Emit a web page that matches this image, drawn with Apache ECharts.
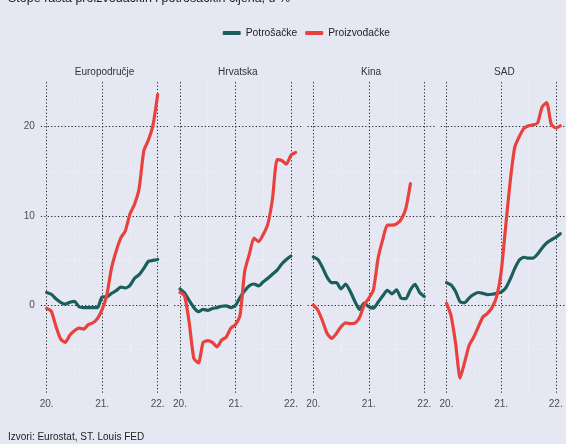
<!DOCTYPE html>
<html>
<head>
<meta charset="utf-8">
<title>Stope rasta cijena</title>
<script src="https://cdn.jsdelivr.net/npm/echarts@6/dist/echarts.min.js"></script>
<style>
  html, body { margin: 0; padding: 0; background: #E5E8F3; }
  #chart { width: 566px; height: 444px; }
</style>
</head>
<body>
<div id="chart"></div>
<script>
// x = mjeseci od siječnja 2020. (0 = 2020-01)
const panels = ["Europodručje", "Hrvatska", "Kina", "SAD"];
const seriesNames = ["Potrošačke", "Proizvođačke"];
const tickMonths = [0, 12, 24];
const tickLabels = ["20.", "21.", "22."];
const yTicks = [0, 10, 20];

const euPotrosacke = [1.4, 1.2, 0.7, 0.3, 0.1, 0.3, 0.4, -0.2, -0.3, -0.3, -0.3, -0.3, 0.9, 0.9, 1.3, 1.6, 2.0, 1.9, 2.2, 3.0, 3.4, 4.1, 4.9, 5.0, 5.1];
const euProizvodacke = [-0.4, -0.7, -2.4, -3.8, -4.2, -3.4, -2.9, -2.6, -2.7, -2.2, -2.0, -1.5, -0.5, 1.1, 4.1, 6.0, 7.5, 8.3, 10.2, 11.3, 13.1, 17.3, 18.5, 20.2, 23.6];
const hrPotrosacke = [1.8, 1.35, 0.5, -0.3, -0.75, -0.5, -0.6, -0.4, -0.3, -0.15, -0.1, -0.3, -0.05, 0.85, 1.6, 2.15, 2.35, 2.15, 2.6, 3.0, 3.45, 3.9, 4.6, 5.1, 5.5];
const hrProizvodacke = [1.4, 1.0, -2.0, -6.0, -6.5, -4.2, -4.0, -4.2, -4.7, -3.95, -3.6, -2.6, -2.2, -1.1, 3.8, 5.7, 7.5, 7.1, 7.9, 9.1, 11.9, 16.3, 16.2, 15.8, 16.8, 17.1];
const cnPotrosacke = [5.4, 5.1, 4.2, 3.1, 2.5, 2.5, 1.8, 2.35, 1.5, 0.4, -0.5, 0.2, -0.2, -0.35, 0.3, 1.0, 1.65, 1.25, 1.7, 0.75, 0.7, 1.7, 2.3, 1.4, 0.95];
const cnProizvodacke = [0.0, -0.6, -1.8, -3.2, -3.75, -3.2, -2.45, -2.0, -2.1, -2.05, -1.4, 0.0, 0.75, 1.7, 5.2, 7.3, 8.95, 8.95, 9.1, 9.6, 10.8, 13.6];
const usPotrosacke = [2.5, 2.25, 1.5, 0.35, 0.25, 0.8, 1.2, 1.4, 1.3, 1.15, 1.2, 1.3, 1.45, 1.9, 2.9, 4.1, 5.05, 5.35, 5.25, 5.25, 5.7, 6.4, 6.95, 7.3, 7.6, 8.0];
const usProizvodacke = [0.2, -1.2, -4.3, -8.2, -6.4, -4.5, -3.6, -2.45, -1.35, -0.95, -0.3, 0.9, 3.65, 8.8, 13.9, 17.7, 18.9, 19.8, 20.1, 20.2, 20.4, 22.2, 22.7, 20.3, 19.85, 20.1];

const potrosacke = [euPotrosacke, hrPotrosacke, cnPotrosacke, usPotrosacke];
const proizvodacke = [euProizvodacke, hrProizvodacke, cnProizvodacke, usProizvodacke];

const colors = ["#1B5F5D", "#E8423F"];
const dark = "#222";
const faint = "rgba(255,255,255,0.55)";

const gridLeft = 40.9, gridStep = 133.3, gridWidth = 127.2;

const chart = echarts.init(document.getElementById("chart"));

const toPoints = (arr) => arr.map((v, i) => [i, v]);

const series = [];
panels.forEach((p, i) => {
  [potrosacke[i], proizvodacke[i]].forEach((arr, k) => {
    series.push({
      name: seriesNames[k],
      type: "line",
      xAxisIndex: i,
      yAxisIndex: i,
      data: toPoints(arr),
      showSymbol: false,
      smooth: 0.2,
      color: colors[k],
      lineStyle: { width: 3.2, color: colors[k], cap: "round", join: "round" },
      silent: true,
    });
  });
});

chart.setOption({
  backgroundColor: "#E5E8F3",
  animation: false,
  title: [
    {
      text: "Stope rasta proizvođačkih i potrošačkih cijena, u %",
      left: 8,
      top: -8,
      padding: 0,
      textStyle: { fontSize: 12.5, fontWeight: "normal", color: "#222", fontFamily: "Liberation Sans" },
    },
    {
      text: "Izvori: Eurostat, ST. Louis FED",
      left: 8,
      top: 432,
      padding: 0,
      textStyle: { fontSize: 10, fontWeight: "normal", color: "#222", fontFamily: "Liberation Sans" },
    },
  ].concat(panels.map((p, i) => ({
    text: p,
    left: gridLeft + i * gridStep + gridWidth / 2,
    textAlign: "center",
    top: 67.5,
    padding: 0,
    textStyle: { fontSize: 10, fontWeight: "normal", color: "#333", fontFamily: "Liberation Sans" },
  }))),
  legend: {
    data: seriesNames,
    left: 222.7,
    top: 28,
    padding: 0,
    icon: "roundRect",
    itemWidth: 18,
    itemHeight: 4,
    itemGap: 8,
    textStyle: { fontSize: 10.3, color: "#222", fontFamily: "Liberation Sans" },
  },
  grid: panels.map((p, i) => ({
    left: gridLeft + i * gridStep,
    top: 82.1,
    width: gridWidth,
    height: 312,
  })),
  xAxis: panels.map((p, i) => ({
    type: "value",
    gridIndex: i,
    min: -1.25,
    max: 26.25,
    axisLine: { show: false },
    axisTick: { show: false, customValues: [0, 6, 12, 18, 24] },
    axisLabel: {
      customValues: tickMonths,
      formatter: (v) => tickLabels[tickMonths.indexOf(v)] || "",
      color: "#4d4d4d",
      fontSize: 10,
      margin: 5,
      fontFamily: "Liberation Sans",
    },
    splitLine: {
      show: true,
      lineStyle: { color: [dark, faint, dark, faint, dark], type: [1.2, 2.2], width: 1 },
    },
  })),
  yAxis: panels.map((p, i) => ({
    type: "value",
    gridIndex: i,
    min: -10,
    max: 25,
    interval: 5,
    axisLine: { show: false },
    axisTick: { show: false },
    axisLabel: {
      show: i === 0,
      formatter: (v) => (yTicks.includes(v) ? String(v) : ""),
      color: "#4d4d4d",
      fontSize: 10,
      margin: 6,
      fontFamily: "Liberation Sans",
    },
    splitLine: {
      show: true,
      lineStyle: {
        color: ["rgba(0,0,0,0)", faint, dark, faint, dark, faint, dark, "rgba(0,0,0,0)"],
        type: [1.2, 2.2],
        width: 1,
      },
    },
  })),
  series: series,
});
</script>
</body>
</html>
